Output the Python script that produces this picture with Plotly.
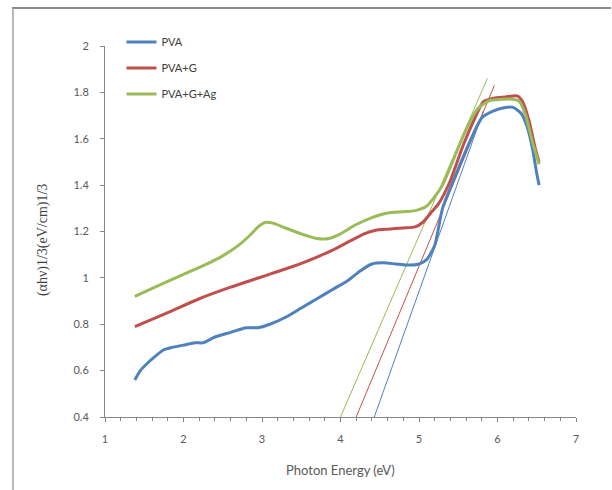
import plotly.graph_objects as go

# ---- data ----
pva_x = [1.38, 1.45, 1.55, 1.65, 1.75, 1.85, 2.0, 2.15, 2.25, 2.4, 2.6, 2.8, 2.95, 3.1, 3.3, 3.5,
         3.7, 3.9, 4.1, 4.25, 4.4, 4.55, 4.7, 4.85, 5.0, 5.1, 5.2, 5.3, 5.5, 5.65, 5.8, 5.95,
         6.1, 6.2, 6.3, 6.38, 6.45, 6.5, 6.53]
pva_y = [0.56, 0.60, 0.635, 0.665, 0.69, 0.70, 0.71, 0.72, 0.72, 0.745, 0.765, 0.785, 0.785, 0.80,
         0.83, 0.87, 0.91, 0.95, 0.99, 1.03, 1.06, 1.065, 1.06, 1.055, 1.06, 1.08, 1.14, 1.30,
         1.47, 1.59, 1.69, 1.72, 1.735, 1.735, 1.71, 1.65, 1.55, 1.45, 1.40]

pvag_x = [1.38, 1.8, 2.2, 2.6, 3.0, 3.4, 3.7, 3.9, 4.1, 4.3, 4.45, 4.6, 4.8, 4.95, 5.05, 5.15,
          5.25, 5.4, 5.55, 5.7, 5.82, 5.95, 6.1, 6.25, 6.32, 6.4, 6.48, 6.53]
pvag_y = [0.79, 0.85, 0.91, 0.96, 1.005, 1.05, 1.09, 1.12, 1.155, 1.19, 1.205, 1.21, 1.215, 1.22,
          1.24, 1.28, 1.32, 1.42, 1.56, 1.68, 1.76, 1.775, 1.78, 1.785, 1.76, 1.68, 1.56, 1.50]

pvagag_x = [1.38, 1.7, 2.0, 2.3, 2.5, 2.7, 2.85, 2.95, 3.05, 3.15, 3.3, 3.5, 3.7, 3.85, 4.0, 4.2,
            4.4, 4.6, 4.8, 4.95, 5.1, 5.2, 5.3, 5.45, 5.6, 5.75, 5.9, 6.05, 6.2, 6.28, 6.36,
            6.45, 6.53]
pvagag_y = [0.92, 0.97, 1.015, 1.06, 1.095, 1.14, 1.185, 1.22, 1.24, 1.235, 1.215, 1.19, 1.17,
            1.17, 1.19, 1.23, 1.26, 1.28, 1.285, 1.29, 1.31, 1.35, 1.40, 1.52, 1.64, 1.73, 1.765,
            1.77, 1.77, 1.76, 1.70, 1.58, 1.49]

# tangent (extrapolation) lines: [x at 0.4, x at top], [0.4, top]
tan_pva_x = [4.43, 5.82]
tan_pva_y = [0.4, 1.72]
tan_pvag_x = [4.2, 5.96]
tan_pvag_y = [0.4, 1.83]
tan_pvagag_x = [4.0, 5.87]
tan_pvagag_y = [0.4, 1.86]

names = ["PVA", "PVA+G", "PVA+G+Ag"]
colors = ["#4F81BD", "#C0504D", "#9BBB59"]

fig = go.Figure()

tans = [(tan_pva_x, tan_pva_y), (tan_pvag_x, tan_pvag_y), (tan_pvagag_x, tan_pvagag_y)]
for (tx, ty), c in zip(tans, colors):
    fig.add_trace(go.Scatter(x=tx, y=ty, mode="lines", line=dict(color=c, width=1),
                             showlegend=False, hoverinfo="skip"))

series = [(pva_x, pva_y), (pvag_x, pvag_y), (pvagag_x, pvagag_y)]
for (sx, sy), n, c in zip(series, names, colors):
    fig.add_trace(go.Scatter(x=sx, y=sy, mode="lines", name=n, legendgroup=n,
                             line=dict(color=c, width=3, shape="spline", smoothing=0.6)))

tickfont = dict(family="Lato, Liberation Sans, sans-serif", size=11, color="#595959")

fig.update_layout(
    width=612, height=490,
    margin=dict(l=105, r=36, t=46, b=73),
    paper_bgcolor="white", plot_bgcolor="white",
    showlegend=True,
    legend=dict(x=0.035, y=1.05, xanchor="left", yanchor="top",
                font=dict(family="Lato, Liberation Sans, sans-serif", size=11, color="#404040"),
                bgcolor="rgba(0,0,0,0)", traceorder="grouped", tracegroupgap=7,
                itemwidth=30),
    xaxis=dict(range=[1, 7], dtick=1, tick0=1, showgrid=False, zeroline=False,
               showline=True, linecolor="#868686", linewidth=1,
               ticks="outside", ticklen=4, tickcolor="#868686", tickfont=tickfont,
               ticklabelstandoff=8,
               minor=dict(dtick=0.2, ticks="outside", ticklen=3, tickcolor="#868686", showgrid=False)),
    yaxis=dict(range=[0.4, 2.0], dtick=0.2, tick0=0.4, showgrid=False, zeroline=False,
               showline=True, linecolor="#868686", linewidth=1,
               ticks="outside", ticklen=4, tickcolor="#868686", tickfont=tickfont,
               ticklabelstandoff=9),
    annotations=[
        dict(text="Photon Energy (eV)", x=0.501, y=-0.143, xref="paper", yref="paper",
             xanchor="center", yanchor="middle", showarrow=False,
             font=dict(family="Lato, Liberation Sans, sans-serif", size=13, color="#595959")),
        dict(text="(αhν)1/3(eV/cm)1/3", x=-0.1316, y=0.477, xref="paper", yref="paper",
             xanchor="center", yanchor="middle", showarrow=False, textangle=-90,
             font=dict(family="Liberation Serif, serif", size=14, color="#404040")),
    ],
    shapes=[
        dict(type="line", xref="paper", yref="paper",
             x0=(12 - 105) / 471, x1=(611 - 105) / 471, y0=(417 - 8) / 371, y1=(417 - 8) / 371,
             line=dict(color="#8c8c8c", width=2)),
        dict(type="line", xref="paper", yref="paper",
             x0=(13 - 105) / 471, x1=(13 - 105) / 471, y0=(417 - 8) / 371, y1=(417 - 495) / 371,
             line=dict(color="#a0a0a0", width=1.5)),
    ],
)

fig.write_html("out.html")
